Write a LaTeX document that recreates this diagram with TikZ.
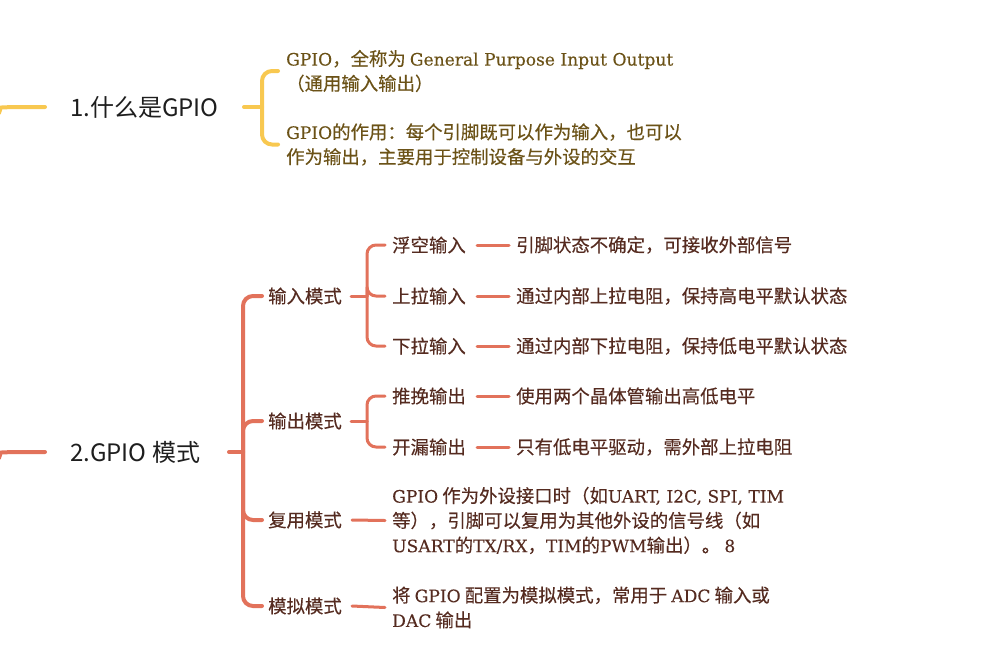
\documentclass[tikz,border=0pt]{standalone}
\usepackage{fontspec}
\setmainfont{Noto Sans CJK SC}
\newfontfamily\subcjk[FakeBold=0.3]{Noto Sans CJK SC}
\newfontfamily\latserif[Scale=0.93,FakeBold=0.15]{DejaVu Serif}
\newcommand\sr[1]{{\latserif #1}}
\definecolor{ylw}{HTML}{F8C850}
\definecolor{rd}{HTML}{E2725B}
\definecolor{tyl}{HTML}{6B5217}
\definecolor{trd}{HTML}{552B20}
\definecolor{tmain}{HTML}{1E1E1E}
\tikzset{
  topic/.style={anchor=west, inner sep=0pt, text=tmain, font=\fontsize{24}{30}\selectfont},
  subt/.style={anchor=west, inner sep=0pt, align=left, font=\subcjk\fontsize{18.4}{24.8}\selectfont},
  ysub/.style={subt, text=tyl},
  rsub/.style={subt, text=trd},
  yline/.style={draw=ylw, line width=4pt, line cap=round, rounded corners=10pt},
  rline/.style={draw=rd, line width=4pt, line cap=round, rounded corners=10pt},
  rthin/.style={draw=rd, line width=3pt, line cap=round, rounded corners=9pt},
}
\begin{document}
\begin{tikzpicture}[x=1pt, y=-1pt]
\useasboundingbox (0,0) rectangle (987,659);
% ---------- branch 1
\coordinate (L1) at (-1,113);
\coordinate (e1) at (45,107);
\coordinate (j1) at (244,107);
\coordinate (b1) at (262,107);
\node[topic] (t1) at (70,107) {1.什么是GPIO};
\node[ysub] (s11) at (286,71) {\sr{GPIO}，全称为 \sr{General Purpose Input Output}\\（通用输入输出）};
\node[ysub] (s12) at (286,144.5) {\sr{GPIO}的作用：每个引脚既可以作为输入，也可以\\作为输出，主要用于控制设备与外设的交互};
\draw[yline] (L1) .. controls (1,107.5) .. (8,107) -- (e1);
\draw[yline] (j1) -- (b1);
\draw[yline] ([xshift=-8pt]s11.west) -| (b1);
\draw[yline] ([xshift=-8pt]s12.west) -| (b1);
% ---------- branch 2
\coordinate (L2) at (-1,458);
\coordinate (e2) at (45,452);
\coordinate (j2) at (229,452);
\coordinate (b2) at (243,452);
\node[topic] (t2) at (70,452) {2.GPIO 模式};
\node[rsub] (m1) at (268,296) {输入模式};
\node[rsub] (m2) at (268,421) {输出模式};
\node[rsub] (m3) at (268,520) {复用模式};
\node[rsub] (m4) at (268,606) {模拟模式};
\draw[rline] (L2) .. controls (1,452.5) .. (8,452) -- (e2);
\draw[rline] (j2) -- (b2);
\foreach \m in {m1,m2,m3,m4} \draw[rline] ([xshift=-6pt]\m.west) -| (b2);
% input modes
\coordinate (j3) at (351,296);
\coordinate (b3) at (367,296);
\node[rsub] (p1) at (392,245) {浮空输入};
\node[rsub] (p2) at (392,296) {上拉输入};
\node[rsub] (p3) at (392,346) {下拉输入};
\node[rsub] (q1) at (516,245) {引脚状态不确定，可接收外部信号};
\node[rsub] (q2) at (516,296) {通过内部上拉电阻，保持高电平默认状态};
\node[rsub] (q3) at (516,346) {通过内部下拉电阻，保持低电平默认状态};
\draw[rthin] (j3) -- (b3);
\foreach \p in {p1,p2,p3} \draw[rthin] ([xshift=-7pt]\p.west) -| (b3);
\foreach \p/\q in {p1/q1,p2/q2,p3/q3} \draw[rthin] ([xshift=11pt]\p.east) -- ([xshift=-7pt]\q.west);
% output modes
\coordinate (j4) at (351,421);
\coordinate (b4) at (367,421);
\node[rsub] (r1) at (392,396) {推挽输出};
\node[rsub] (r2) at (392,447) {开漏输出};
\node[rsub] (w1) at (516,396) {使用两个晶体管输出高低电平};
\node[rsub] (w2) at (516,447) {只有低电平驱动，需外部上拉电阻};
\draw[rthin] (j4) -- (b4);
\foreach \p in {r1,r2} \draw[rthin] ([xshift=-7pt]\p.west) -| (b4);
\foreach \p/\q in {r1/w1,r2/w2} \draw[rthin] ([xshift=11pt]\p.east) -- ([xshift=-7pt]\q.west);
% alternate / analog
\node[rsub] (u1) at (392,520.5) {\sr{GPIO} 作为外设接口时（如\sr{UART, I2C, SPI, TIM}\\等），引脚可以复用为其他外设的信号线（如\\\sr{USART}的\sr{TX/RX}，\sr{TIM}的\sr{PWM}输出）。 \sr{8}};
\node[rsub] (u2) at (392,607.5) {将 \sr{GPIO} 配置为模拟模式，常用于 \sr{ADC} 输入或\\\sr{DAC} 输出};
\draw[rthin] ([xshift=10pt]m3.east) -- ([xshift=-7pt]u1.west);
\draw[rthin] ([xshift=10pt]m4.east) -- ([xshift=-7pt]u2.west);
\end{tikzpicture}
\end{document}
